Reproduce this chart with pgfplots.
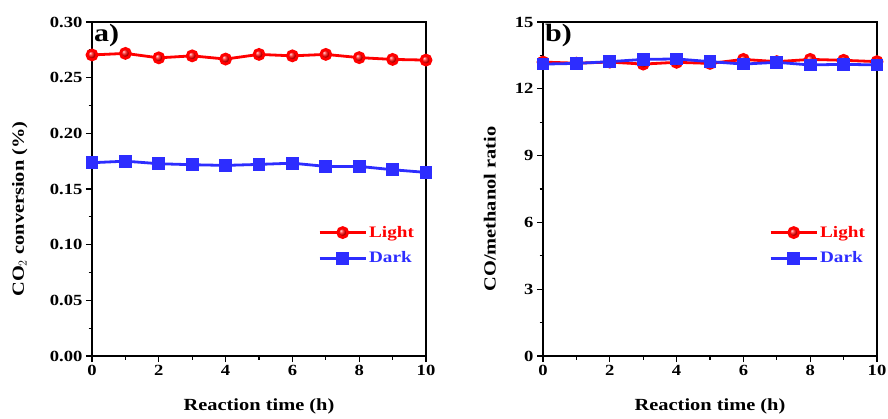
\documentclass[border=0pt]{standalone}
\usepackage{pgfplots}
\pgfplotsset{compat=1.18}
\usepackage{fontspec}
\setmainfont{Liberation Serif}[FakeStretch=1.2]
\usetikzlibrary{shadings}

\definecolor{lightred}{RGB}{255,0,0}
\definecolor{darkblue}{RGB}{45,45,255}

% Light / dark series, panel (a): CO2 conversion
\pgfplotstableread{
t conv
0 0.2704
1 0.2718
2 0.2678
3 0.2696
4 0.2667
5 0.2709
6 0.2696
7 0.2709
8 0.2680
9 0.2664
10 0.2658
}\convlight
\pgfplotstableread{
t conv
0 0.1736
1 0.1750
2 0.1727
3 0.1718
4 0.1712
5 0.1721
6 0.1732
7 0.1703
8 0.1703
9 0.1673
10 0.1649
}\convdark
% panel (b): CO/methanol ratio
\pgfplotstableread{
t ratio
0 13.20
1 13.15
2 13.20
3 13.11
4 13.19
5 13.14
6 13.32
7 13.22
8 13.32
9 13.28
10 13.22
}\ratiolight
\pgfplotstableread{
t ratio
0 13.11
1 13.14
2 13.22
3 13.32
4 13.34
5 13.22
6 13.11
7 13.19
8 13.07
9 13.10
10 13.07
}\ratiodark

\newcommand\labelfont{\fontsize{17}{19}\selectfont\bfseries}
\newcommand\tickfont{\fontsize{15.5}{17}\selectfont\bfseries}

\pgfplotsset{
  panel/.style={
    anchor=south west,
    scale only axis,
    width=334pt, height=334pt,
    xmin=0, xmax=10,
    xtick={0,2,...,10},
    minor x tick num=1,
    minor y tick num=1,
    tick align=outside,
    xtick pos=bottom, ytick pos=left,
    axis line style={line width=1.4pt},
    major tick length=6pt,
    minor tick length=3.5pt,
    every tick/.style={line width=1.2pt, black},
    tick label style={font=\tickfont},
    /pgf/number format/assume math mode=true,
    xlabel={Reaction time (h)},
    every axis x label/.style={at={(rel axis cs:0.5,0)}, yshift=-50pt,
      anchor=center, font=\labelfont},
    legend style={draw=none, fill=none, anchor=north west,
      font=\fontsize{16}{18}\selectfont\bfseries,
      row sep=9pt, inner sep=0pt},
    legend cell align=left,
    legend image code/.code={%
      \draw[mark repeat=2, mark phase=2] plot coordinates {(0pt,0pt) (23pt,0pt) (46pt,0pt)};},
  },
  lightline/.style={color=lightred, line width=2.8pt, mark=ball,
    mark size=5pt, mark options={ball color=lightred, draw=none}},
  darkline/.style={color=darkblue, line width=2.8pt, mark=square*,
    mark size=5pt, mark options={fill=darkblue, draw=none}},
}

\begin{document}
\begin{tikzpicture}[x=1pt,y=1pt]
\useasboundingbox (0,0) rectangle (888,418);

\begin{axis}[panel, at={(92pt,62pt)},
  ymin=0, ymax=0.30, ytick={0,0.05,...,0.30},
  yticklabel style={/pgf/number format/.cd, fixed, fixed zerofill, precision=2},
  ylabel={CO$_2$ conversion (\%)},
  every axis y label/.style={at={(rel axis cs:-0.216,0.44)}, rotate=90,
    anchor=center, font=\labelfont},
  legend style={at={(rel axis cs:0.677,0.395)}},
]
\addplot[lightline] table[x=t,y=conv] {\convlight};
\addlegendentry{\textcolor{lightred}{Light}}
\addplot[darkline] table[x=t,y=conv] {\convdark};
\addlegendentry{\textcolor{darkblue}{Dark}}
\node[anchor=north west, font=\fontsize{25}{28}\selectfont\bfseries, inner sep=2pt]
  at (rel axis cs:0,1) {a)};
\end{axis}

\begin{axis}[panel, at={(543pt,62pt)},
  ymin=0, ymax=15, ytick={0,3,...,15},
  ylabel={CO/methanol ratio},
  every axis y label/.style={at={(rel axis cs:-0.159,0.44)}, rotate=90,
    anchor=center, font=\labelfont},
  legend style={at={(rel axis cs:0.677,0.395)}},
]
\addplot[lightline] table[x=t,y=ratio] {\ratiolight};
\addlegendentry{\textcolor{lightred}{Light}}
\addplot[darkline] table[x=t,y=ratio] {\ratiodark};
\addlegendentry{\textcolor{darkblue}{Dark}}
\node[anchor=north west, font=\fontsize{25}{28}\selectfont\bfseries, inner sep=2pt]
  at (rel axis cs:0,1) {b)};
\end{axis}
\end{tikzpicture}
\end{document}
